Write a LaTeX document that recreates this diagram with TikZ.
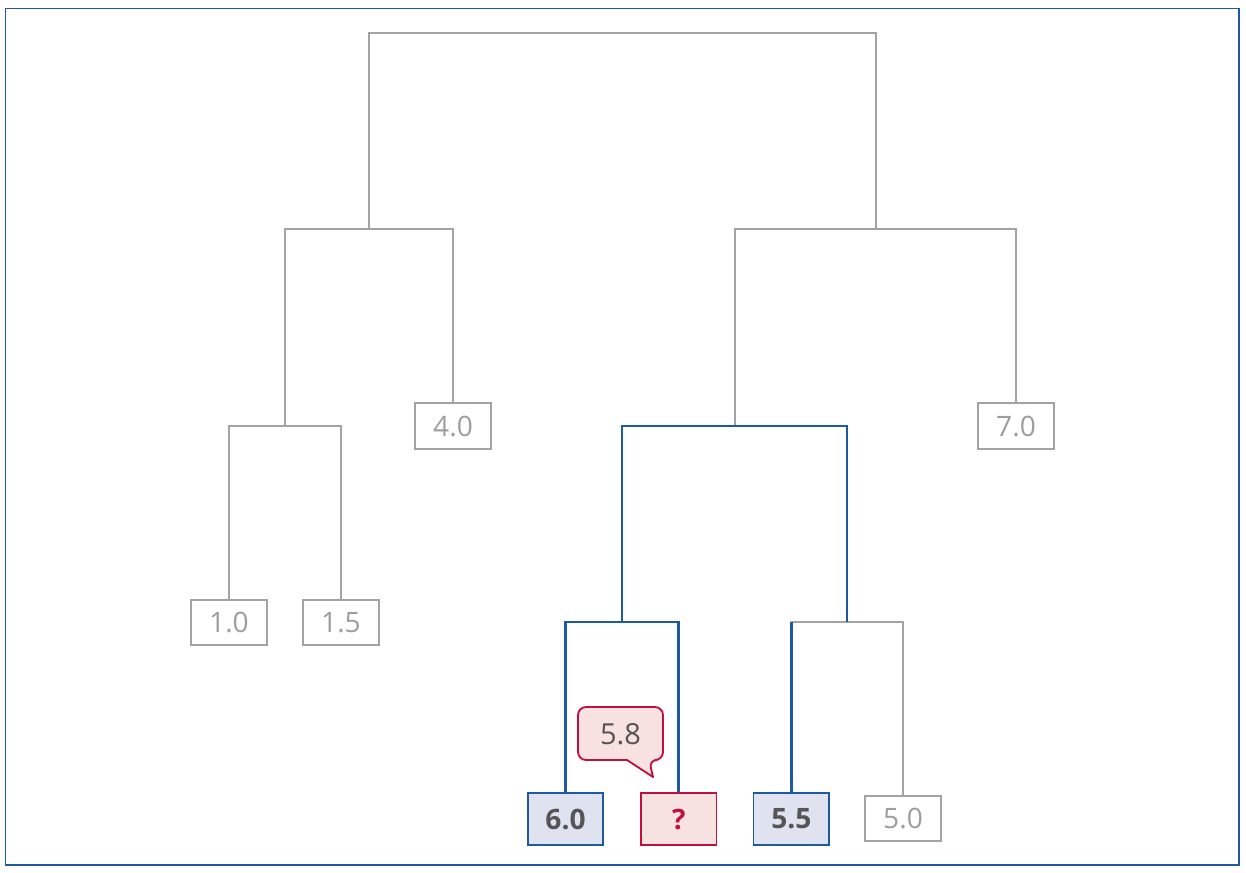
\documentclass[tikz,border=0pt]{standalone}
\usepackage{fontspec}
\setmainfont{Open Sans}
\definecolor{lgray}{HTML}{A3A3A3}
\definecolor{tgray}{HTML}{9E9E9E}
\definecolor{dgray}{HTML}{555555}
\definecolor{hblue}{HTML}{1F5AA0}
\definecolor{bfill}{HTML}{DFE3EF}
\definecolor{hred}{HTML}{C0103F}
\definecolor{pfill}{HTML}{F7E1E1}
\tikzset{
  grayline/.style={draw=lgray, line width=1.15pt},
  blueline/.style={draw=hblue, line width=1.4pt},
  leaf/.style={draw=lgray, line width=1.05pt, fill=white, minimum width=1.51cm, minimum height=0.91cm, inner sep=0pt, text=tgray, font=\fontsize{16}{19}\selectfont},
  hleaf/.style={draw=hblue, line width=1.05pt, fill=bfill, minimum width=1.51cm, minimum height=1.03cm, inner sep=0pt, text=dgray, font=\fontsize{16}{19}\selectfont\bfseries},
  qleaf/.style={draw=hred, line width=1.05pt, fill=pfill, minimum width=1.51cm, minimum height=1.03cm, inner sep=0pt, text=hred, font=\fontsize{16}{19}\selectfont\bfseries},
  calltext/.style={inner sep=0pt, text=dgray, font=\fontsize{16.5}{19}\selectfont},
}
\begin{document}
\begin{tikzpicture}[x=0.02cm, y=-0.02cm]
\useasboundingbox (0,0) rectangle (1246,872);
\draw[hblue, line width=0.8pt] (5.5,8.5) rectangle (1239,865);
% internal joints
\coordinate (root) at (622,33);
\coordinate (L) at (369,229);
\coordinate (R) at (875.5,229);
\coordinate (LL) at (285,426);
\coordinate (RL) at (735,426);
\coordinate (RLL) at (622,622);
\coordinate (RLR) at (847,622);
% leaves
\node[leaf] (n10) at (229,622.5) {1.0};
\node[leaf] (n15) at (341,622.5) {1.5};
\node[leaf] (n40) at (453,426) {4.0};
\node[leaf] (n70) at (1016,426) {7.0};
\node[hleaf] (n60) at (565.5,819) {6.0};
\node[qleaf] (nq) at (678.7,819) {?};
\node[hleaf] (n55) at (791.3,819) {5.5};
\node[leaf] (n50) at (903,818.5) {5.0};
% gray connectors
\draw[grayline] (L) -- (L |- root) -- (R |- root) -- (R);
\draw[grayline] (LL) -- (LL |- L) -- (n40.north |- L) -- (n40.north);
\draw[grayline] (n10.north) -- (n10.north |- LL) -- (n15.north |- LL) -- (n15.north);
\draw[grayline] (RL) -- (RL |- R) -- (n70.north |- R) -- (n70.north);
\draw[grayline] (n55.north |- RLR) -- (n50.north |- RLR) -- (n50.north);
% blue connectors
\draw[blueline] (RLL) -- (RLL |- RL) -- (RLR |- RL) -- (RLR);
\draw[blueline] (n60.north) -- (n60.north |- RLL) -- (nq.north |- RLL) -- (nq.north);
\draw[blueline] (n55.north) -- (n55.north |- RLR);
% callout
\draw[draw=hred, fill=pfill, line width=1.05pt, line join=round]
  (620,707) [rounded corners=0.16cm] -- (663,707) -- (663,760) -- (649,760)
  [sharp corners] -- (653,777) -- (627,760)
  [rounded corners=0.16cm] -- (578,760) -- (578,707) -- cycle;
\node[calltext] (c58) at (620.5,734.5) {5.8};
\end{tikzpicture}
\end{document}
